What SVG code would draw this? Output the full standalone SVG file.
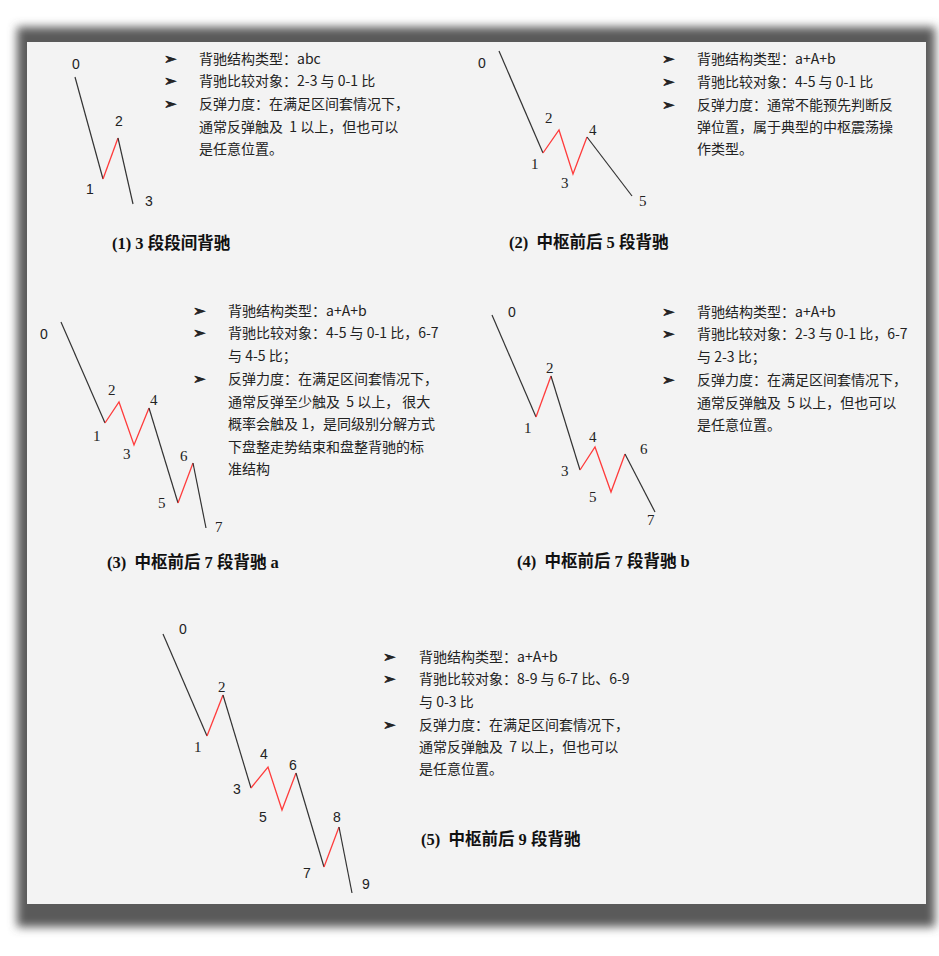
<svg xmlns="http://www.w3.org/2000/svg" width="939" height="956" viewBox="0 0 939 956">
<style>
.t{font-family:"Noto Sans CJK SC","Liberation Sans",sans-serif;font-size:14px;fill:#222;white-space:pre}
.b{font-family:"DejaVu Sans",sans-serif;font-size:15px;font-weight:bold;fill:#222;stroke:#222;stroke-width:0.7}
.cap{font-family:"Liberation Serif","Noto Sans CJK SC",serif;font-size:16.5px;font-weight:bold;fill:#111;white-space:pre}
.ns{font-family:"Liberation Sans",sans-serif;font-size:14px;fill:#222}
.nr{font-family:"Liberation Serif",serif;font-size:15px;fill:#222}
.k{fill:none;stroke:#333;stroke-width:1.2}
.r{fill:none;stroke:#ff3b3b;stroke-width:1.3}
</style>
<defs>
<filter id="sh" x="-5%" y="-5%" width="110%" height="110%"><feGaussianBlur stdDeviation="5"/></filter>
</defs>
<rect width="939" height="956" fill="#fff"/>
<rect x="17" y="27" width="918" height="900" fill="#5a5a5a" filter="url(#sh)"/>
<rect x="27" y="42" width="899" height="862" fill="#f3f3f3"/>

<g id="connectors">
<polyline class="k" points="75,77 103,179"/>
<polyline class="r" points="103,179 118,138"/>
<polyline class="k" points="118,138 133,204"/>

<polyline class="k" points="499,51 543,153"/>
<polyline class="r" points="543,153 559,130 573,174 587,137"/>
<polyline class="k" points="587,137 632,196"/>

<polyline class="k" points="61,322 105,423"/>
<polyline class="r" points="105,423 119,402 134,445 149,408"/>
<polyline class="k" points="149,408 178,503"/>
<polyline class="r" points="178,503 193,463"/>
<polyline class="k" points="193,463 206,528"/>

<polyline class="k" points="492,315 536,417"/>
<polyline class="r" points="536,417 551,376"/>
<polyline class="k" points="551,376 580,470"/>
<polyline class="r" points="580,470 595,447 611,492 625,454"/>
<polyline class="k" points="625,454 655,512"/>

<polyline class="k" points="163,634 207,736"/>
<polyline class="r" points="207,736 223,695"/>
<polyline class="k" points="223,695 251,788"/>
<polyline class="r" points="251,788 268,767 282,810 296,773"/>
<polyline class="k" points="296,773 324,867"/>
<polyline class="r" points="324,867 339,827"/>
<polyline class="k" points="339,827 352,893"/>
</g>

<g id="panel1">
<text class="ns" x="72" y="69">0</text>
<text class="ns" x="115" y="126">2</text>
<text class="ns" x="86" y="194">1</text>
<text class="ns" x="145" y="206">3</text>
<text class="b" x="164" y="64">➢</text>
<text class="b" x="164" y="86">➢</text>
<text class="b" x="164" y="109">➢</text>
<text class="t" x="199" y="64">背驰结构类型：abc</text>
<text class="t" x="199" y="86">背驰比较对象：2-3 与 0-1 比</text>
<text class="t" x="199" y="109">反弹力度：在满足区间套情况下，</text>
<text class="t" x="199" y="132">通常反弹触及  1 以上，但也可以</text>
<text class="t" x="199" y="154">是任意位置。</text>
<text class="cap" x="112" y="249">(1) 3 段段间背驰</text>
</g>

<g id="panel2">
<text class="ns" x="478" y="68">0</text>
<text class="nr" x="545" y="123">2</text>
<text class="nr" x="531" y="169">1</text>
<text class="nr" x="561" y="188">3</text>
<text class="nr" x="589" y="135">4</text>
<text class="nr" x="639" y="206">5</text>
<text class="b" x="662" y="64">➢</text>
<text class="b" x="662" y="87">➢</text>
<text class="b" x="662" y="110">➢</text>
<text class="t" x="697" y="64">背驰结构类型：a+A+b</text>
<text class="t" x="697" y="87">背驰比较对象：4-5 与 0-1 比</text>
<text class="t" x="697" y="110">反弹力度：通常不能预先判断反</text>
<text class="t" x="697" y="132">弹位置，属于典型的中枢震荡操</text>
<text class="t" x="697" y="154">作类型。</text>
<text class="cap" x="509" y="248">(2)  中枢前后 5 段背驰</text>
</g>

<g id="panel3">
<text class="ns" x="40" y="339">0</text>
<text class="nr" x="108" y="395">2</text>
<text class="nr" x="93" y="441">1</text>
<text class="nr" x="123" y="459">3</text>
<text class="nr" x="150" y="405">4</text>
<text class="nr" x="180" y="461">6</text>
<text class="nr" x="158" y="508">5</text>
<text class="nr" x="215" y="532">7</text>
<text class="b" x="193" y="316">➢</text>
<text class="b" x="193" y="338">➢</text>
<text class="b" x="193" y="384">➢</text>
<text class="t" x="228" y="316">背驰结构类型：a+A+b</text>
<text class="t" x="228" y="338">背驰比较对象：4-5 与 0-1 比，6-7</text>
<text class="t" x="228" y="361">与 4-5 比；</text>
<text class="t" x="228" y="384">反弹力度：在满足区间套情况下，</text>
<text class="t" x="228" y="407">通常反弹至少触及  5 以上， 很大</text>
<text class="t" x="228" y="429">概率会触及 1，是同级别分解方式</text>
<text class="t" x="228" y="452">下盘整走势结束和盘整背驰的标</text>
<text class="t" x="228" y="474">准结构</text>
<text class="cap" x="107" y="568">(3)  中枢前后 7 段背驰 a</text>
</g>

<g id="panel4">
<text class="ns" x="508" y="317">0</text>
<text class="nr" x="546" y="373">2</text>
<text class="nr" x="524" y="433">1</text>
<text class="nr" x="589" y="442">4</text>
<text class="nr" x="561" y="476">3</text>
<text class="nr" x="640" y="454">6</text>
<text class="nr" x="589" y="502">5</text>
<text class="nr" x="647" y="525">7</text>
<text class="b" x="662" y="317">➢</text>
<text class="b" x="662" y="339">➢</text>
<text class="b" x="662" y="385">➢</text>
<text class="t" x="697" y="317">背驰结构类型：a+A+b</text>
<text class="t" x="697" y="339">背驰比较对象：2-3 与 0-1 比，6-7</text>
<text class="t" x="697" y="362">与 2-3 比；</text>
<text class="t" x="697" y="385">反弹力度：在满足区间套情况下，</text>
<text class="t" x="697" y="408">通常反弹触及  5 以上，但也可以</text>
<text class="t" x="697" y="430">是任意位置。</text>
<text class="cap" x="517" y="567">(4)  中枢前后 7 段背驰 b</text>
</g>

<g id="panel5">
<text class="ns" x="179" y="634">0</text>
<text class="nr" x="218" y="692">2</text>
<text class="nr" x="194" y="752">1</text>
<text class="ns" x="260" y="759">4</text>
<text class="ns" x="289" y="770">6</text>
<text class="ns" x="233" y="794">3</text>
<text class="ns" x="259" y="822">5</text>
<text class="ns" x="333" y="822">8</text>
<text class="ns" x="303" y="878">7</text>
<text class="ns" x="362" y="889">9</text>
<text class="b" x="383" y="662">➢</text>
<text class="b" x="383" y="684">➢</text>
<text class="b" x="383" y="730">➢</text>
<text class="t" x="419" y="662">背驰结构类型：a+A+b</text>
<text class="t" x="419" y="684">背驰比较对象：8-9 与 6-7 比、6-9</text>
<text class="t" x="419" y="707">与 0-3 比</text>
<text class="t" x="419" y="730">反弹力度：在满足区间套情况下，</text>
<text class="t" x="419" y="752">通常反弹触及  7 以上，但也可以</text>
<text class="t" x="419" y="774">是任意位置。</text>
<text class="cap" x="421" y="845">(5)  中枢前后 9 段背驰</text>
</g>
</svg>
